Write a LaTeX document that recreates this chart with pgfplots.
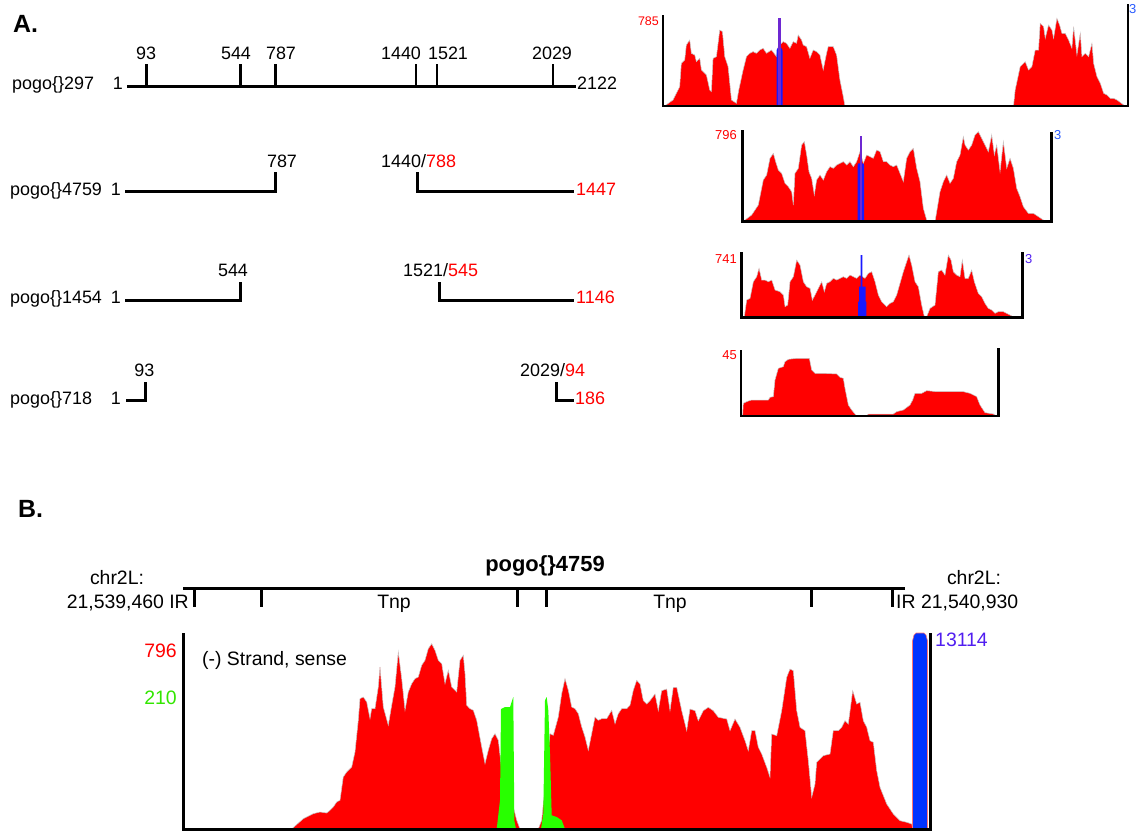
\documentclass[border=0pt]{standalone}
\usepackage{pgfplots}
\pgfplotsset{compat=1.18}
\usepackage{fontspec}
\setmainfont{Liberation Sans}
\definecolor{covred}{RGB}{255,0,0}
\definecolor{covblue}{RGB}{25,25,255}
\definecolor{bblue}{RGB}{0,51,255}
\definecolor{spike}{RGB}{110,40,210}
\definecolor{lblblue}{RGB}{40,90,255}
\definecolor{lblpurple}{RGB}{80,30,240}
\definecolor{covgreen}{RGB}{40,255,0}
\definecolor{lblgreen}{RGB}{50,230,0}
\newcommand\fs[1]{\fontsize{#1}{#1}\selectfont}
\pgfplotsset{cov/.style={scale only axis, hide axis, clip=false, anchor=south west, ymin=0, xmin=0},
  redfill/.style={fill=covred, draw=black!22, line width=0.5bp},
  ax/.style={black, line width=2.6bp, line join=miter}}
\begin{document}
\begin{tikzpicture}
\useasboundingbox (0,0) rectangle (1138bp,-831bp);
% ---------------- background axis: schematic diagrams and labels ----------------
\begin{axis}[at={(569bp,-415.5bp)}, anchor=center, scale only axis, width=1138bp, height=831bp,
  xmin=0, xmax=1138, ymin=0, ymax=831, y dir=reverse, hide axis, clip=false]
\node[anchor=base west, inner sep=0] at (13,32) {\fs{25}\bfseries A.};
% row 1
\addplot[ax, line width=3bp] coordinates {(127,86.7) (576,86.7)};
\addplot[ax] coordinates {(146.4,64) (146.4,86.7)};
\addplot[ax] coordinates {(240.4,64) (240.4,86.7)};
\addplot[ax] coordinates {(275.2,64) (275.2,86.7)};
\addplot[ax] coordinates {(416,64) (416,86.7)};
\addplot[ax] coordinates {(437,64) (437,86.7)};
\addplot[ax] coordinates {(553,64) (553,86.7)};
\node[anchor=base west, inner sep=0] at (12,89) {\fs{18}pogo\{\}297};
\node[anchor=base east, inner sep=0] at (123,89) {\fs{18}1};
\node[anchor=base west, inner sep=0] at (577,89) {\fs{18}2122};
\node[anchor=base, inner sep=0] at (146,59) {\fs{18}93};
\node[anchor=base, inner sep=0] at (236,59) {\fs{18}544};
\node[anchor=base, inner sep=0] at (281,59) {\fs{18}787};
\node[anchor=base, inner sep=0] at (401,59) {\fs{18}1440};
\node[anchor=base, inner sep=0] at (448,59) {\fs{18}1521};
\node[anchor=base, inner sep=0] at (552,59) {\fs{18}2029};
% row 2
\addplot[ax, line width=3bp] coordinates {(125,191) (275,191) (275,172)};
\addplot[ax, line width=3bp] coordinates {(417,172) (417,191) (574,191)};
\node[anchor=base west, inner sep=0] at (10,195) {\fs{18}pogo\{\}4759};
\node[anchor=base east, inner sep=0] at (121,195) {\fs{18}1};
\node[anchor=base, inner sep=0] at (282,167.5) {\fs{18}787};
\node[anchor=base west, inner sep=0] at (381,167.5) {\fs{18}1440/\textcolor{covred}{788}};
\node[anchor=base west, inner sep=0] at (576,195) {\fs{18}\textcolor{covred}{1447}};
% row 3
\addplot[ax, line width=3bp] coordinates {(125,300) (240.8,300) (240.8,282)};
\addplot[ax, line width=3bp] coordinates {(439.6,282) (439.6,300) (574,300)};
\node[anchor=base west, inner sep=0] at (10,303) {\fs{18}pogo\{\}1454};
\node[anchor=base east, inner sep=0] at (121,303) {\fs{18}1};
\node[anchor=base, inner sep=0] at (233,276.5) {\fs{18}544};
\node[anchor=base west, inner sep=0] at (403,276.5) {\fs{18}1521/\textcolor{covred}{545}};
\node[anchor=base west, inner sep=0] at (576,303) {\fs{18}\textcolor{covred}{1146}};
% row 4
\addplot[ax, line width=3bp] coordinates {(126,400) (145,400) (145,382)};
\addplot[ax, line width=3bp] coordinates {(556,382) (556,400) (574,400)};
\node[anchor=base west, inner sep=0] at (10,404) {\fs{18}pogo\{\}718};
\node[anchor=base east, inner sep=0] at (121,404) {\fs{18}1};
\node[anchor=base, inner sep=0] at (144.4,376.5) {\fs{18}93};
\node[anchor=base west, inner sep=0] at (520,376.5) {\fs{18}2029/\textcolor{covred}{94}};
\node[anchor=base west, inner sep=0] at (575,404) {\fs{18}\textcolor{covred}{186}};
% coverage labels panel A
\node[anchor=base east, inner sep=0] at (659,25) {\fs{12.5}\textcolor{covred}{785}};
\node[anchor=base west, inner sep=0] at (1129,13) {\fs{13}\textcolor{lblblue}{3}};
\node[anchor=base east, inner sep=0] at (737,139) {\fs{13}\textcolor{covred}{796}};
\node[anchor=base west, inner sep=0] at (1054,139) {\fs{13}\textcolor{lblblue}{3}};
\node[anchor=base east, inner sep=0] at (737,263) {\fs{13}\textcolor{covred}{741}};
\node[anchor=base west, inner sep=0] at (1025,263) {\fs{13}\textcolor{lblpurple}{3}};
\node[anchor=base east, inner sep=0] at (737,359) {\fs{13}\textcolor{covred}{45}};
% ---------------- panel B ----------------
\node[anchor=base west, inner sep=0] at (18,517) {\fs{25}\bfseries B.};
\node[anchor=base, inner sep=0] at (545,571) {\fs{22}\bfseries pogo\{\}4759};
\addplot[ax, line width=3bp] coordinates {(183,588) (905,588)};
\addplot[ax, line width=3bp] coordinates {(194,588) (194,607)};
\addplot[ax, line width=3bp] coordinates {(261,588) (261,607)};
\addplot[ax, line width=3bp] coordinates {(517,588) (517,607)};
\addplot[ax, line width=3bp] coordinates {(546,588) (546,607)};
\addplot[ax, line width=3bp] coordinates {(811,588) (811,607)};
\addplot[ax, line width=3bp] coordinates {(892,588) (892,607)};
\node[anchor=base, inner sep=0] at (117,584) {\fs{19.5}chr2L:};
\node[anchor=base east, inner sep=0] at (189,608) {\fs{19.5}21,539,460 IR};
\node[anchor=base, inner sep=0] at (974,584) {\fs{19.5}chr2L:};
\node[anchor=base west, inner sep=0] at (896,608) {\fs{19.5}IR 21,540,930};
\node[anchor=base, inner sep=0] at (394,608) {\fs{19.5}Tnp};
\node[anchor=base, inner sep=0] at (670,608) {\fs{19.5}Tnp};
\node[anchor=base east, inner sep=0] at (177,657) {\fs{19.5}\textcolor{covred}{796}};
\node[anchor=base east, inner sep=0] at (177,704) {\fs{19.5}\textcolor{lblgreen}{210}};
\node[anchor=base west, inner sep=0] at (935,646) {\fs{19.5}\textcolor{lblpurple}{13114}};
\node[anchor=base west, inner sep=0] at (202,665) {\fs{19.5}(-) Strand, sense};
\end{axis}
% ---------------- A1: pogo{}297 ----------------
\begin{axis}[cov, at={(663bp,-106bp)}, width=465bp, height=91bp, xmax=1393, ymax=273]
\addplot[redfill] coordinates {(0,0)(5,0)(30,18)(50,58)(55,128)(65,138)(70,183)(80,198)(85,158)(95,153)(100,133)(110,143)(115,108)(130,93)(140,48)(145,43)(150,143)(160,148)(170,228)(178,223)(185,148)(195,118)(205,18)(220,8)(227,48)(240,108)(250,148)(260,158)(270,163)(280,158)(290,168)(300,173)(310,158)(325,168)(340,148)(345,178)(360,193)(370,188)(380,173)(390,193)(400,188)(405,213)(415,198)(420,183)(430,178)(440,143)(450,168)(460,163)(470,153)(480,108)(490,158)(495,178)(510,178)(520,153)(530,78)(540,28)(545,0)(1050,0)(1055,48)(1070,118)(1085,133)(1095,108)(1105,118)(1115,168)(1125,168)(1130,248)(1140,238)(1145,203)(1155,243)(1165,228)(1170,203)(1180,263)(1188,243)(1195,218)(1205,218)(1215,198)(1225,173)(1230,238)(1240,153)(1250,218)(1255,148)(1265,158)(1275,148)(1285,188)(1290,128)(1300,88)(1310,68)(1320,38)(1330,33)(1340,23)(1350,23)(1360,18)(1380,3)(1385,0)} \closedcycle;
\addplot[fill=covblue, draw=none] coordinates {(340,0)(340,165)(342,173)(356,173)(358,165)(358,0)} \closedcycle;
\addplot[spike, line width=2.2bp] coordinates {(349,0)(349,263)};
\addplot[ax] coordinates {(0,273)(0,0)(1393,0)(1393,305)};
\end{axis}
% ---------------- A2: pogo{}4759 ----------------
\begin{axis}[cov, at={(742.3bp,-221.7bp)}, width=309.4bp, height=91.7bp, xmax=928, ymax=275]
\addplot[redfill] coordinates {(0,0)(8,5)(28,20)(48,50)(63,125)(73,140)(83,190)(93,205)(100,180)(108,155)(118,145)(128,115)(138,105)(148,90)(153,50)(158,145)(168,160)(178,230)(186,240)(193,200)(200,150)(208,130)(216,80)(223,125)(233,140)(243,125)(253,150)(263,165)(273,160)(283,170)(293,175)(303,180)(313,170)(323,180)(333,165)(343,180)(353,210)(363,175)(373,200)(383,195)(393,190)(403,215)(413,210)(423,180)(433,180)(443,170)(453,165)(463,170)(473,145)(483,120)(493,190)(503,210)(513,220)(523,160)(533,120)(543,40)(553,5)(558,0)(578,0)(583,30)(593,90)(603,120)(613,140)(623,115)(633,130)(643,180)(653,200)(663,255)(668,230)(678,215)(688,230)(698,260)(708,270)(718,250)(728,230)(738,210)(748,260)(756,200)(763,230)(773,150)(783,240)(793,160)(803,190)(813,160)(823,100)(833,75)(843,45)(858,25)(873,25)(888,15)(903,5)(913,0)} \closedcycle;
\addplot[fill=covblue, draw=none] coordinates {(346,0)(346,170)(348,175)(363,175)(365,170)(365,0)} \closedcycle;
\addplot[spike, line width=2bp] coordinates {(356,0)(356,258)};
\addplot[ax] coordinates {(0,275)(0,0)(928,0)(928,270)};
\end{axis}
% ---------------- A3: pogo{}1454 ----------------
\begin{axis}[cov, at={(741.7bp,-317.7bp)}, width=280.6bp, height=65.3bp, xmax=842, ymax=196]
\addplot[redfill] coordinates {(0,0)(8,3)(15,53)(25,58)(35,108)(45,123)(52,148)(60,113)(70,113)(80,108)(90,113)(100,83)(115,78)(125,68)(130,33)(138,38)(145,108)(155,123)(165,173)(175,158)(185,108)(195,93)(205,88)(212,53)(220,68)(230,88)(240,108)(248,78)(255,103)(265,108)(275,118)(285,113)(295,118)(305,123)(315,118)(325,128)(335,123)(345,118)(355,128)(370,118)(380,133)(390,138)(400,108)(410,68)(420,48)(435,33)(445,43)(455,48)(465,68)(475,103)(485,138)(495,168)(502,188)(510,158)(520,108)(530,93)(540,38)(548,3)(555,3)(565,28)(580,38)(590,138)(600,143)(610,128)(620,188)(628,173)(635,138)(645,128)(655,123)(662,173)(670,118)(680,118)(690,143)(698,108)(710,73)(720,63)(730,43)(740,28)(750,23)(760,13)(770,18)(785,18)(795,13)(805,8)(815,3)(825,0)} \closedcycle;
\addplot[fill=covblue, draw=none] coordinates {(349,0)(349,48)(352,48)(352,93)(357,93)(357,188)(362,188)(362,93)(372,93)(372,48)(374,48)(374,0)} \closedcycle;
\addplot[ax] coordinates {(0,196)(0,0)(842,0)(842,196)};
\end{axis}
% ---------------- A4: pogo{}718 ----------------
\begin{axis}[cov, at={(741bp,-416bp)}, width=257.3bp, height=66bp, xmax=772, ymax=198]
\addplot[redfill] coordinates {(0,0)(5,3)(7,38)(17,43)(32,48)(82,48)(87,56)(97,58)(102,108)(112,143)(127,148)(132,163)(142,170)(167,173)(205,173)(212,138)(222,128)(247,128)(287,126)(297,116)(307,113)(312,83)(322,33)(332,18)(342,6)(347,0)(377,0)(382,6)(457,6)(467,13)(487,18)(507,33)(515,48)(522,68)(542,68)(557,76)(587,73)(667,73)(687,68)(707,58)(717,33)(732,10)(757,6)(767,0)} \closedcycle;
\addplot[ax] coordinates {(0,198)(0,0)(772,0)(772,203)};
\end{axis}
% ---------------- B: coverage ----------------
\begin{axis}[cov, at={(183bp,-829bp)}, width=747bp, height=196bp, xmin=183, xmax=930, ymax=196]
\addplot[redfill] coordinates {(291.7,0)(303.3,10.3)(313.3,15.3)(320,17)(326.7,16)(330,18.7)(333.3,22)(336.7,27)(340,28.7)(343.3,52)(346.7,57)(351.7,62)(355,77)(358.3,108.7)(360,130.3)(363.3,132)(366.7,127)(370,110.3)(371.7,120.3)(375,120.3)(378.3,142)(380,162)(383.3,122)(388.3,103.7)(391.7,123.7)(395,142)(398.3,177)(401.7,150.3)(405,118.7)(408.3,137)(411.7,145.3)(415,150.3)(418.3,152)(421.7,163.7)(425,168.7)(428.3,180.3)(431.7,185.3)(435,178.7)(438.3,168.7)(441.7,165.3)(445,145.3)(448.3,158.7)(451.7,142)(456.7,137)(460,168.7)(463.3,173.7)(465,155.3)(466.7,123.7)(470,120.3)(473.3,118.7)(476.7,108.7)(481.7,82)(485,65.3)(488.3,78.7)(491.7,90.3)(495,95.3)(498.3,88.7)(501.7,58.7)(506.7,42)(513.3,22)(516.7,8.7)(520,0)(538.3,0)(541.7,8.7)(546.7,58.7)(550,95.3)(553.3,93.7)(558.3,112)(561.7,135.3)(565,150.3)(568.3,138.7)(571.7,122)(575,120.3)(578.3,115.3)(581.7,102)(585,92)(588.3,78.7)(591.7,95.3)(595,112)(598.3,108.7)(601.7,110.3)(606.7,110.3)(611.7,118.7)(615,105.3)(618.3,115.3)(621.7,120.3)(626.7,120.3)(630,123.7)(633.3,138.7)(636.7,148.7)(640,145)(643.3,128.3)(646.7,125)(650,128.3)(655,135)(658.3,118.3)(661.7,138.3)(666.7,140)(670,118.3)(673.3,141.7)(676.7,141.7)(681.7,118.3)(686.7,98.3)(690,120)(695,118.3)(698.3,108.3)(703.3,118.3)(708.3,121.7)(713.3,118.3)(718.3,111.7)(726.7,110)(730,98.3)(735,110)(740,101.7)(745,88.3)(748.3,78.3)(751.7,98.3)(755,98.3)(758.3,81.7)(761.7,75)(766.7,61.7)(770,51.7)(771.7,95)(776.7,93.3)(781.7,118.3)(786.7,151.7)(790,160)(793.3,158.3)(796.7,118.3)(800,101.7)(805,98.3)(808.3,68.3)(811.7,31.7)(815,45)(816.7,66.7)(823.3,73.3)(830,75)(833.3,98.3)(838.3,98.3)(841.7,101.7)(845,108.3)(848.3,105)(852.7,138.3)(856.7,125)(860,126.7)(863.3,108.3)(866.7,101.7)(870,88.3)(873.3,86.7)(876.7,58.3)(880,41.7)(886.7,25)(893.3,15)(900,8.3)(906.7,6.7)(911.7,5)(912.7,0)} \closedcycle;
\addplot[fill=covgreen, draw=none] coordinates {(496.7,0)(500,28.7)(501,120)(505,122)(510,122)(513.3,132)(514.3,8.7)(516,0)} \closedcycle;
\addplot[fill=covgreen, draw=none] coordinates {(541,0)(543.3,15.3)(545,128.7)(546.7,132)(548.3,118.7)(550,75.3)(551.7,13.7)(556.7,12)(561.7,8.7)(565,0)} \closedcycle;
\addplot[fill=bblue, draw=red!55, line width=0.6bp] coordinates {(912.5,0)(912.5,188)(914,194)(916,196)(924,196)(926,194)(927.5,188)(927.5,0)} \closedcycle;
\addplot[ax, line width=3bp] coordinates {(183,196)(183,0)(930,0)(930,196)};
\end{axis}
\end{tikzpicture}
\end{document}
